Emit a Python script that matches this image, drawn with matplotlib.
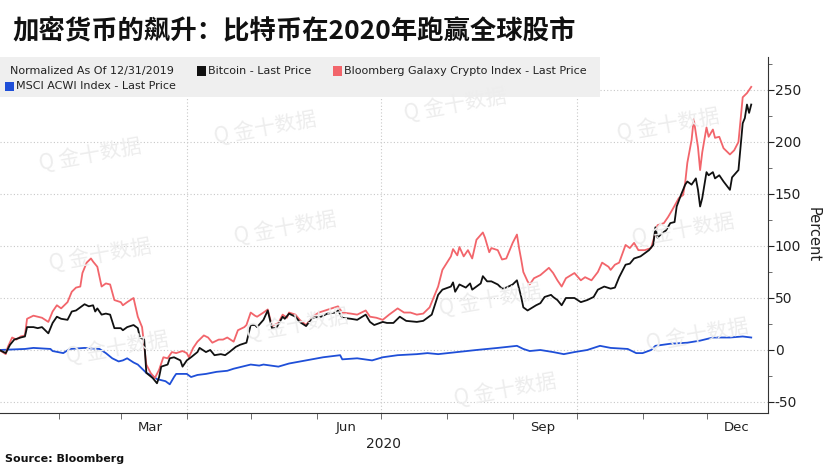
import pandas as pd
import matplotlib
matplotlib.use('Agg')
import matplotlib.pyplot as plt
import matplotlib.dates as mdates
from matplotlib.patches import Rectangle

# values: (days since 12/31/2019, percent change)
bitcoin = [(4, 0), (7, -3), (9, 5), (11, 10), (14, 12), (16, 13), (17, 22), (20, 22), (22, 21), (24, 22),
           (27, 16), (29, 26), (31, 32), (33, 30), (36, 29), (38, 37), (40, 38), (42, 41), (44, 44), (46, 42),
           (48, 43), (49, 37), (50, 40), (52, 34), (54, 35), (56, 34), (58, 21), (61, 21), (62, 19), (64, 22),
           (67, 24), (69, 21), (70, 12), (72, 10), (73, -22), (76, -27), (78, -32), (79, -26), (80, -16), (83, -14),
           (84, -8), (86, -7), (89, -10), (90, -16), (92, -10), (94, -7), (97, -2), (98, 2), (101, -2), (103, 0),
           (105, -5), (108, -4), (110, -5), (112, -2), (115, 3), (117, 5), (120, 7), (122, 24), (124, 24), (125, 22),
           (128, 29), (130, 38), (132, 21), (134, 21), (137, 32), (138, 30), (140, 35), (143, 32), (145, 27), (148, 23),
           (151, 31), (155, 32), (158, 35), (162, 36), (163, 38), (165, 31), (169, 30), (172, 29), (176, 34), (178, 27),
           (180, 24), (184, 27), (186, 26), (189, 26), (192, 32), (195, 28), (200, 27), (203, 28), (207, 34), (210, 53),
           (212, 58), (216, 61), (217, 65), (218, 56), (220, 63), (223, 60), (225, 64), (226, 58), (230, 64), (231, 71),
           (233, 66), (235, 66), (238, 63), (240, 59), (242, 60), (245, 63), (247, 67), (249, 51), (250, 41), (252, 38),
           (256, 43), (258, 45), (260, 51), (263, 53), (264, 51), (266, 48), (268, 43), (270, 50), (274, 50), (277, 46),
           (280, 48), (283, 51), (285, 58), (288, 61), (291, 59), (293, 60), (295, 70), (298, 82), (300, 83), (302, 88),
           (305, 90), (307, 93), (309, 96), (311, 101), (312, 118), (313, 108), (315, 112), (317, 115), (319, 122),
           (321, 123), (322, 138), (324, 149), (326, 159), (327, 162), (329, 159), (331, 165), (332, 154), (333, 138),
           (334, 146), (336, 171), (337, 168), (339, 171), (340, 165), (342, 168), (344, 162), (347, 154), (348, 166),
           (351, 173), (353, 218), (354, 223), (355, 236), (356, 228), (357, 236)]

galaxy = [(4, 0), (7, -4), (8, 3), (10, 12), (12, 10), (14, 13), (16, 14), (17, 30), (20, 33), (22, 32),
          (24, 31), (27, 27), (29, 37), (31, 43), (33, 40), (36, 46), (38, 56), (40, 60), (42, 61), (43, 74),
          (45, 84), (47, 88), (48, 85), (50, 80), (52, 61), (54, 64), (56, 63), (58, 48), (61, 46), (62, 43),
          (64, 46), (67, 50), (69, 32), (71, 22), (73, -14), (75, -22), (77, -27), (79, -19), (81, -7), (83, -8),
          (85, -2), (87, -3), (90, -1), (92, -3), (93, -7), (95, 2), (97, 8), (100, 14), (102, 12), (104, 7),
          (107, 10), (109, 10), (111, 12), (114, 8), (116, 19), (119, 22), (120, 24), (122, 36), (124, 33), (125, 32),
          (128, 36), (130, 39), (132, 23), (135, 26), (137, 34), (139, 31), (140, 36), (143, 34), (145, 29), (148, 24),
          (151, 32), (154, 36), (157, 38), (160, 40), (163, 42), (165, 36), (169, 35), (172, 34), (176, 38), (178, 32),
          (181, 31), (184, 29), (187, 34), (191, 40), (194, 36), (197, 36), (200, 34), (203, 35), (206, 41), (210, 61),
          (212, 77), (216, 90), (217, 97), (219, 91), (220, 99), (222, 90), (224, 96), (226, 88), (228, 106), (231, 113),
          (232, 108), (234, 94), (235, 98), (238, 96), (240, 87), (242, 88), (243, 93), (245, 103), (247, 111), (248, 98),
          (249, 87), (250, 75), (252, 66), (253, 63), (255, 69), (258, 72), (262, 79), (264, 74), (266, 67), (268, 61),
          (270, 69), (274, 74), (277, 67), (279, 70), (282, 67), (285, 75), (287, 84), (290, 80), (291, 77), (293, 82),
          (295, 84), (298, 101), (300, 98), (302, 103), (304, 96), (307, 96), (310, 98), (313, 120), (316, 122),
          (318, 128), (320, 135), (323, 146), (325, 149), (326, 161), (327, 180), (329, 202), (330, 222), (332, 195),
          (333, 173), (334, 190), (336, 214), (337, 205), (339, 212), (340, 204), (342, 205), (344, 194), (347, 188),
          (349, 192), (351, 200), (353, 243), (355, 247), (357, 253)]

msci = [(4, 0), (16, 1), (20, 2), (28, 1), (29, -1), (34, -3), (37, 1), (44, 2), (51, 1), (54, -3),
        (57, -8), (60, -11), (62, -10), (64, -8), (67, -12), (69, -14), (71, -18), (73, -22), (76, -25), (78, -28),
        (82, -30), (84, -33), (86, -26), (87, -23), (92, -23), (94, -26), (97, -24), (101, -23), (106, -21), (111, -20),
        (114, -18), (118, -16), (122, -14), (126, -15), (128, -14), (135, -16), (140, -13), (148, -10), (156, -7),
        (164, -5), (165, -9), (172, -8), (179, -10), (184, -7), (191, -5), (200, -4), (205, -3), (210, -4), (219, -2),
        (228, 0), (238, 2), (247, 4), (250, 1), (253, -1), (258, 0), (264, -2), (269, -4), (274, -2), (280, 0),
        (286, 4), (291, 2), (299, 1), (303, -3), (306, -3), (310, 0), (312, 4), (319, 6), (327, 7), (333, 9),
        (339, 12), (347, 12), (353, 13), (357, 12)]

series_labels = ['Bitcoin - Last Price', 'Bloomberg Galaxy Crypto Index - Last Price', 'MSCI ACWI Index - Last Price']
series_colors = ['#111111', '#f2656b', '#1f4fd8']

base = pd.Timestamp('2019-12-31')


def to_frame(pairs):
    df = pd.DataFrame(pairs, columns=['day', 'pct'])
    df['date'] = base + pd.to_timedelta(df['day'], unit='D')
    return df


plt.rcParams['font.family'] = ['DejaVu Sans']
plt.rcParams['axes.unicode_minus'] = False

fig = plt.figure(figsize=(8.31, 4.67), dpi=100)
ax = fig.add_axes([0.0, 0.1156, 0.924, 0.7623])

# watermark
for px, py in [(90, 155), (265, 128), (455, 105), (668, 125), (100, 255), (285, 228), (683, 230),
               (117, 348), (297, 325), (490, 300), (697, 335), (505, 390)]:
    fig.text(px / 831, 1 - py / 467, 'Q 金十数据', family=['Noto Sans CJK SC'], fontsize=15,
             color='#ededed', rotation=10, ha='center', va='center', zorder=0)
ax.patch.set_alpha(0)

# grid
for y in [-50, 0, 50, 100, 150, 200, 250]:
    ax.axhline(y, color='#c8c8c8', lw=0.8, ls=(0, (1, 2)), zorder=1)
for d in ['2020-04-01', '2020-07-01', '2020-10-01']:
    ax.axvline(pd.Timestamp(d), color='#c8c8c8', lw=0.8, ls=(0, (1, 2)), zorder=1)

for pairs, color in zip([msci, galaxy, bitcoin], [series_colors[2], series_colors[1], series_colors[0]]):
    df = to_frame(pairs)
    ax.plot(df['date'], df['pct'], color=color, lw=1.3, zorder=3)

ax.set_xlim(base + pd.Timedelta(days=4.3), base + pd.Timedelta(days=364.8))
ax.set_ylim(-60.6, 281.7)

# axes style
ax.spines['left'].set_visible(False)
ax.spines['top'].set_visible(False)
ax.spines['right'].set_color('#333333')
ax.spines['bottom'].set_color('#333333')
ax.yaxis.tick_right()
ax.set_yticks([-50, 0, 50, 100, 150, 200, 250])
ax.set_yticks(range(-50, 276, 25), minor=True)
ax.tick_params(axis='y', which='major', length=4, labelsize=10, colors='#222222', pad=1)
ax.tick_params(axis='y', which='minor', length=3, colors='#555555')
ax.xaxis.set_major_locator(mdates.MonthLocator(bymonth=[3, 6, 9, 12], bymonthday=15))
ax.xaxis.set_major_formatter(mdates.DateFormatter('%b'))
ax.xaxis.set_minor_locator(mdates.MonthLocator())
ax.tick_params(axis='x', which='major', length=0, labelsize=9.5, colors='#222222', pad=6)
ax.tick_params(axis='x', which='minor', length=4, colors='#555555')
ax.set_xlabel('2020', fontsize=10, color='#222222', labelpad=2)
ax.yaxis.set_label_position('right')
ax.set_ylabel('Percent', rotation=-90, fontsize=10.5, color='#222222', labelpad=14)

# legend box
ax.add_patch(Rectangle((0, 0.888), 0.781, 0.112, transform=ax.transAxes, facecolor='#efefef',
                       edgecolor='none', zorder=4))
ax.text(0.013, 0.961, 'Normalized As Of 12/31/2019', transform=ax.transAxes, fontsize=8,
        va='center', color='#222222', zorder=5)
legend_pos = [(0.2565, 0.961), (0.4335, 0.961), (0.0065, 0.918)]
for (lx, ly), label, color in zip(legend_pos, series_labels, series_colors):
    ax.add_patch(Rectangle((lx, ly - 0.013), 0.0115, 0.026, transform=ax.transAxes,
                           facecolor=color, edgecolor='none', zorder=5))
    ax.text(lx + 0.014, ly, label, transform=ax.transAxes, fontsize=8, va='center',
            color='#222222', zorder=5)

fig.text(12 / 831, 1 - 31 / 467, '加密货币的飙升：比特币在2020年跑赢全球股市', family=['Noto Sans CJK SC'],
         fontsize=19, weight='bold', va='center', color='#111111')
fig.text(5 / 831, 1 - 459 / 467, 'Source: Bloomberg', fontsize=8, weight='bold', va='center', color='#111111')

fig.savefig('out.png', dpi=100)
